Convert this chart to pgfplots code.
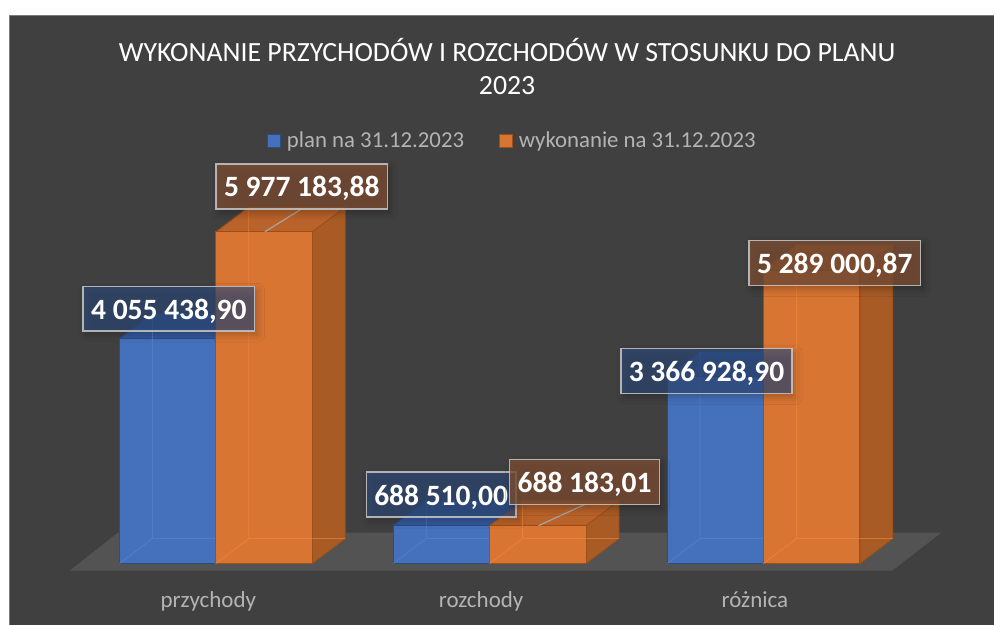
\documentclass[border=0pt]{standalone}
\usepackage{fontspec}
\setmainfont{Carlito}
\usepackage{pgfplots}
\pgfplotsset{compat=1.18}
\usepackage{pgfplotstable}
\usetikzlibrary{shadows.blur}

\definecolor{bg}{HTML}{404040}
\definecolor{bordercol}{HTML}{7A7A7A}
\definecolor{floorcol}{HTML}{535353}
\definecolor{bluefront}{HTML}{4571BC}
\definecolor{bluetop}{HTML}{34589A}
\definecolor{blueedge}{HTML}{2C4C86}
\definecolor{bluehid}{HTML}{5A86D0}
\definecolor{orfront}{HTML}{D97533}
\definecolor{orside}{HTML}{A85B25}
\definecolor{ortop}{HTML}{B96229}
\definecolor{oredge}{HTML}{9E4F17}
\definecolor{orhid}{HTML}{F08A3A}
\definecolor{txtgrey}{HTML}{B4B4B4}
\definecolor{labborder}{HTML}{C8C8C8}
\definecolor{bluelab}{HTML}{2E4A7A}
\definecolor{orlab}{HTML}{794D34}
\definecolor{leader}{HTML}{A6A6A6}

% data
\pgfplotstableread{
x plan wyk
0 4055438.90 5977183.88
1 688510.00 688183.01
2 3366928.90 5289000.87
}\dane

% face vertex patterns: x = X + a*depthx + c*barwidth ; y = b*V + a*depthy
\pgfplotstableread{
a b c
0 0 0
1 0 0
1 1 0
0 1 0
}\sidev
\pgfplotstableread{
a b c
0 1 -1
0 1 0
1 1 0
1 1 -1
}\topv
% hidden (back) edges seen through the front face
\pgfplotstableread{
a b c
1 1 -1
1 0 -1
0 0 -1
1 0 -1
1 0 0
}\hidv

\newcommand\face[4]{%
  \addplot[mark=none, #4] table[x expr={#2+\thisrow{a}*0.1204+\thisrow{c}*0.3522},
    y expr={#3*\thisrow{b}+\thisrow{a}*450250}] {#1} -- cycle;}
\newcommand\edges[3]{%
  \addplot[mark=none, #3] table[x expr={#1+\thisrow{a}*0.1204+\thisrow{c}*0.3522},
    y expr={#2*\thisrow{b}+\thisrow{a}*450250}] {\hidv};}

\tikzset{
  lab/.style={draw=labborder, line width=1.5bp, draw opacity=0.85,
    inner xsep=8bp, inner ysep=12bp, text height=21bp, text depth=0bp,
    font=\fontsize{29.5bp}{29.5bp}\selectfont\bfseries, text=white, text opacity=1,
    blur shadow={shadow xshift=3bp, shadow yshift=-4bp, shadow blur radius=7bp, shadow opacity=35}},
  bluel/.style={lab, fill=bluelab, fill opacity=0.65},
  orl/.style={lab, fill=orlab, fill opacity=0.8},
  btop/.style={fill=bluetop, draw=blueedge, line width=0.8bp},
  oside/.style={fill=orside, draw=oredge, line width=0.8bp},
  otop/.style={fill=ortop, draw=oredge, line width=0.8bp},
  bhid/.style={draw=bluehid, line width=0.8bp, draw opacity=0.6},
  ohid/.style={draw=orhid, line width=0.8bp, draw opacity=0.6},
}

\begin{document}
\begin{tikzpicture}
\begin{scope}[x=1bp,y=-1bp,shift={(0,625bp)}]
  \fill[white] (0,0) rectangle (995,625);
  \fill[bg] (9,15) rectangle (995,625);
  \draw[bordercol, line width=1.5bp] (9.75,625) -- (9.75,15.75) -- (995,15.75);
  \fill[floorcol] (70,571) -- (118,533) -- (942,533) -- (893,571) -- cycle;
\end{scope}

\begin{axis}[at={(0,0)}, anchor=south west, scale only axis,
  width=995bp, height=625bp,
  xmin=-0.788321, xmax=2.843066, ymin=-1098610, ymax=10157640,
  hide axis, clip=false]

% blue top faces (right edge of blue bar at category x)
\pgfplotsinvokeforeach{0,1,2}{%
  \pgfplotstablegetelem{#1}{plan}\of\dane
  \edef\tmp{\noexpand\face{\noexpand\topv}{#1}{\pgfplotsretval}{btop}}\tmp
}
% blue front faces
\addplot[ybar, bar width=0.3522, bar shift=-0.1761, fill=bluefront, draw=blueedge, line width=1bp]
  table[x=x, y=plan] {\dane};
\pgfplotsinvokeforeach{0,1,2}{%
  \pgfplotstablegetelem{#1}{plan}\of\dane
  \edef\tmp{\noexpand\edges{#1}{\pgfplotsretval}{bhid}}\tmp
}

% orange side and top faces (right edge of orange bar at category x + bar width)
\pgfplotsinvokeforeach{0,1,2}{%
  \pgfplotstablegetelem{#1}{wyk}\of\dane
  \edef\tmp{\noexpand\face{\noexpand\sidev}{#1.3522}{\pgfplotsretval}{oside}}\tmp
  \edef\tmp{\noexpand\face{\noexpand\topv}{#1.3522}{\pgfplotsretval}{otop}}\tmp
}
% orange front faces
\addplot[ybar, bar width=0.3522, bar shift=0.1761, fill=orfront, draw=oredge, line width=1bp]
  table[x=x, y=wyk] {\dane};
\pgfplotsinvokeforeach{0,1,2}{%
  \pgfplotstablegetelem{#1}{wyk}\of\dane
  \edef\tmp{\noexpand\edges{#1.3522}{\pgfplotsretval}{ohid}}\tmp
}
\end{axis}

\begin{scope}[x=1bp,y=-1bp,shift={(0,625bp)}]
  % title
  \node[anchor=base, text=white, font=\fontsize{27.8bp}{33bp}\selectfont] at (507.5,62)
    {WYKONANIE PRZYCHODÓW I ROZCHODÓW W STOSUNKU DO PLANU};
  \node[anchor=base, text=white, font=\fontsize{27.8bp}{33bp}\selectfont] at (507.5,95) {2023};
  % legend
  \filldraw[fill=bluefront, draw=blueedge, line width=1bp] (268,135) rectangle (281,148);
  \node[anchor=base west, inner sep=0, text=txtgrey, font=\fontsize{22.8bp}{22.8bp}\selectfont] at (287,148) {plan na 31.12.2023};
  \filldraw[fill=orfront, draw=oredge, line width=1bp] (500,135) rectangle (513,148);
  \node[anchor=base west, inner sep=0, text=txtgrey, font=\fontsize{22.8bp}{22.8bp}\selectfont] at (519,148) {wykonanie na 31.12.2023};
  % categories
  \foreach \xx/\name in {208.5/przychody, 481.5/rozchody, 755.5/różnica}
    \node[anchor=base, text=txtgrey, font=\fontsize{23bp}{23bp}\selectfont] at (\xx,608) {\name};
  % leader lines
  \draw[leader, line width=1.2bp] (302,209) -- (265,232);
  \draw[leader, line width=1.2bp] (585,505) -- (539,526);
  % data labels
  \node[bluel] at (169,309) {4 055 438,90};
  \node[orl] at (302,186.5) {5 977 183,88};
  \node[bluel] at (441.5,495) {688 510,00};
  \node[orl] at (585,482.5) {688 183,01};
  \node[bluel] at (707,371.5) {3 366 928,90};
  \node[orl] at (835.5,263) {5 289 000,87};
\end{scope}
\end{tikzpicture}
\end{document}
